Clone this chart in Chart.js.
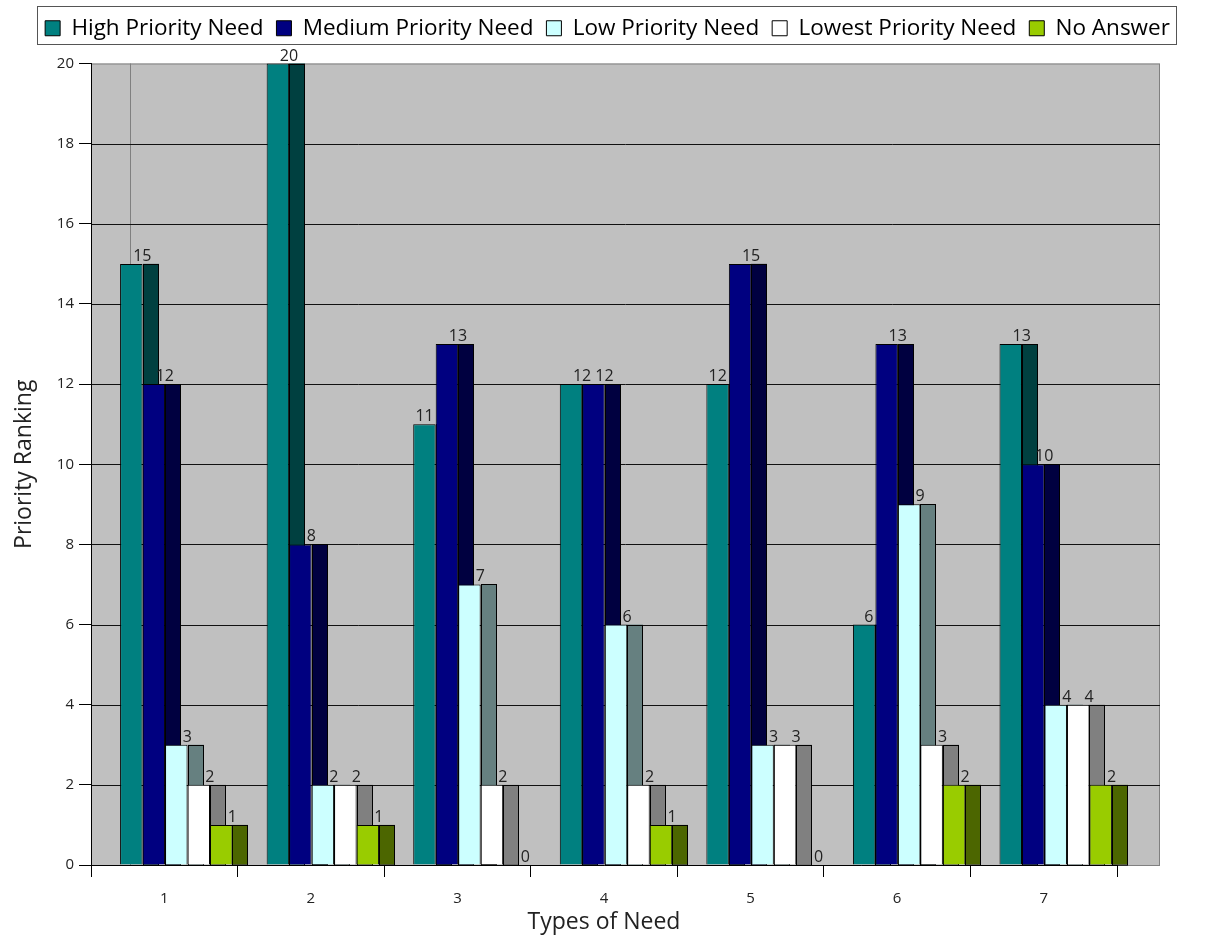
<!DOCTYPE html>
<html>
<head>
<meta charset="utf-8">
<script src="https://cdn.jsdelivr.net/npm/chart.js@4.4.1/dist/chart.umd.min.js"></script>
<style>
  html, body { margin: 0; background: #fff; }
  #wrap { width: 1215px; height: 944px; }
</style>
</head>
<body>
<div id="wrap"><canvas id="chart"></canvas></div>
<script>
const categories = ["1", "2", "3", "4", "5", "6", "7"];
const seriesNames = ["High Priority Need", "Medium Priority Need", "Low Priority Need", "Lowest Priority Need", "No Answer"];
const highPriority = [15, 20, 11, 12, 12, 6, 13];
const mediumPriority = [12, 8, 13, 12, 15, 13, 10];
const lowPriority = [3, 2, 7, 6, 3, 9, 4];
const lowestPriority = [2, 2, 2, 2, 3, 3, 4];
const noAnswer = [1, 1, 0, 1, 0, 2, 2];
const yTickValues = [0, 2, 4, 6, 8, 10, 12, 14, 16, 18, 20];

const frontColors = ["#008080", "#000080", "#ccffff", "#ffffff", "#99cc00"];
const sideColors = ["#004040", "#000040", "#668080", "#808080", "#4c6600"];

const SHIFT = 12;    // fronts sit a bit right of the category centre
const SIDE_W = 16;   // shaded side face width
const DEPTH = 43;    // back wall runs past the last category
const WALL = 39;     // left edge of back wall
const LABEL_DX = 11; // value labels sit over the box, not the front

Chart.defaults.font.family = '"Open Sans", sans-serif';
Chart.defaults.color = "#222";

const $ = (id) => document.getElementById(id);

// grey walls + gridlines, wider than the category area
const wallPlugin = {
  id: "wall",
  beforeDraw(chart) {
    const { ctx, chartArea: a, scales: { y } } = chart;
    const right = a.right + DEPTH;
    ctx.save();
    ctx.fillStyle = "#c0c0c0";
    ctx.fillRect(a.left, a.top, right - a.left, a.bottom - a.top);
    ctx.strokeStyle = "#808080";
    ctx.lineWidth = 1;
    ctx.strokeRect(a.left + 0.5, a.top + 0.5, right - a.left - 1, a.bottom - a.top);
    ctx.beginPath();
    ctx.moveTo(a.left + WALL + 0.5, a.top);
    ctx.lineTo(a.left + WALL + 0.5, a.bottom);
    ctx.stroke();
    ctx.strokeStyle = "#111";
    y.ticks.forEach((t) => {
      if (t.value === y.min || t.value === y.max) return;
      const py = Math.round(y.getPixelForValue(t.value)) + 0.5;
      ctx.beginPath();
      ctx.moveTo(a.left, py);
      ctx.lineTo(right, py);
      ctx.stroke();
    });
    ctx.restore();
  },
};

// side faces under the fronts, value labels on top
const boxPlugin = {
  id: "boxes",
  beforeDatasetsDraw(chart) {
    const ctx = chart.ctx;
    ctx.save();
    ctx.translate(SHIFT, 0);
    ctx.lineWidth = 1;
    ctx.strokeStyle = "#000";
    chart.data.datasets.forEach((ds, i) => {
      chart.getDatasetMeta(i).data.forEach((bar) => {
        const { x, y, base, width } = bar.getProps(["x", "y", "base", "width"], true);
        if (base - y < 0.5) return;
        const left = Math.round(x + width / 2);
        ctx.fillStyle = sideColors[i];
        ctx.fillRect(left, y, SIDE_W, base - y);
        ctx.strokeRect(left + 0.5, Math.round(y) + 0.5, SIDE_W - 1, base - y);
      });
    });
  },
  afterDatasetsDraw(chart) {
    const ctx = chart.ctx;
    const sets = chart.data.datasets;
    ctx.font = '16px "Open Sans", sans-serif';
    ctx.fillStyle = "#222";
    ctx.textAlign = "center";
    ctx.textBaseline = "alphabetic";
    sets.forEach((ds, i) => {
      chart.getDatasetMeta(i).data.forEach((bar, j) => {
        const { x, y, width } = bar.getProps(["x", "y", "width"], true);
        const text = String(ds.data[j]);
        let cx = x + LABEL_DX;
        // a taller neighbour would hide the label: pull it back left
        const next = sets[i + 1];
        if (next && next.data[j] > ds.data[j]) {
          cx = Math.min(cx, x + width / 2 - ctx.measureText(text).width / 2 - 2);
        }
        ctx.fillText(text, cx, y - 3);
      });
    });
    ctx.restore();
  },
  afterDraw(chart) {
    const boxes = chart.legend && chart.legend.legendHitBoxes;
    if (!boxes || !boxes.length) return;
    const ctx = chart.ctx;
    const l = Math.min(...boxes.map((b) => b.left)) - 8;
    const r = Math.max(...boxes.map((b) => b.left + b.width)) + 6;
    const t = boxes[0].top - 11;
    const b = boxes[0].top + boxes[0].height + 4;
    ctx.save();
    ctx.strokeStyle = "#555";
    ctx.lineWidth = 1;
    ctx.strokeRect(Math.round(l) + 0.5, Math.round(t) + 0.5, Math.round(r - l), Math.round(b - t));
    ctx.restore();
  },
};

const seriesData = [highPriority, mediumPriority, lowPriority, lowestPriority, noAnswer];

function buildDatasets() {
  return seriesNames.map((name, i) => ({
    label: name,
    data: seriesData[i],
    backgroundColor: frontColors[i],
    borderColor: "#000",
    borderWidth: 1,
    borderSkipped: "start",
    xAxisID: "x",
    yAxisID: "y",
    clip: false,
  }));
}

function boot() {
  new Chart($("chart"), {
    type: "bar",
    data: { labels: categories, datasets: buildDatasets() },
    plugins: [wallPlugin, boxPlugin],
    options: {
      responsive: true,
      maintainAspectRatio: false,
      animation: false,
      events: [],
      layout: { padding: { top: 4, left: 0, right: 0, bottom: 0 } },
      categoryPercentage: 0.767,
      barPercentage: 1,
      plugins: {
        tooltip: { enabled: false },
        legend: {
          position: "top",
          labels: {
            boxWidth: 15,
            boxHeight: 15,
            padding: 13,
            color: "#000",
            font: { size: 22.5 },
          },
        },
      },
      scales: {
        x: {
          position: "bottom",
          grid: { drawOnChartArea: false, offset: true, tickLength: 12, color: "#000" },
          border: { color: "#000" },
          ticks: { font: { size: 15 }, color: "#222", padding: 13 },
          title: { display: true, text: "Types of Need", font: { size: 23 }, color: "#222", padding: { bottom: 8 } },
          afterFit: (s) => { s.height = 79; },
        },
        y: {
          position: "left",
          min: 0,
          max: 20,
          afterBuildTicks: (s) => { s.ticks = yTickValues.map((v) => ({ value: v })); },
          grid: { drawOnChartArea: false, tickLength: 12, color: "#000" },
          border: { color: "#000" },
          ticks: { font: { size: 15 }, color: "#222", padding: 5 },
          title: { display: true, text: "Priority Ranking", font: { size: 23 }, color: "#222", padding: { top: 11 } },
          afterFit: (s) => { s.width = 91; },
        },
        gapTop: {
          type: "category",
          position: "top",
          ticks: { display: false },
          grid: { display: false },
          border: { display: false },
          afterFit: (s) => { s.height = 14; },
        },
        gapRight: {
          type: "linear",
          position: "right",
          ticks: { display: false },
          grid: { display: false },
          border: { display: false },
          afterFit: (s) => { s.width = 98; },
        },
      },
    },
  });
}

document.addEventListener("DOMContentLoaded", boot);
</script>
</body>
</html>
